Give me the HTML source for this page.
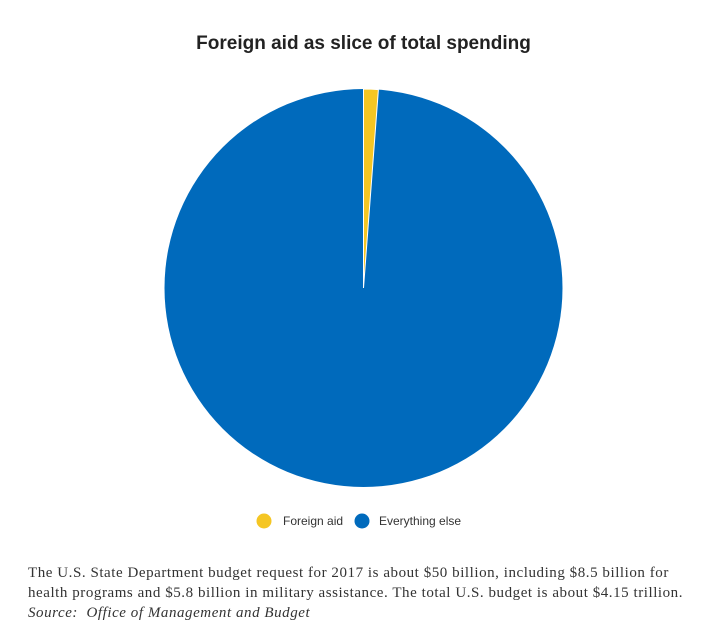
<!DOCTYPE html>
<html><head><style>
body{margin:0;background:#fff;width:711px;height:633px;overflow:hidden;position:relative}
.t{position:absolute;left:0;width:727px;text-align:center;top:33px;font:bold 19px "Liberation Sans",sans-serif;color:#222}
.f{position:absolute;left:28px;top:563px;font:15px/20px "Liberation Serif",serif;color:#333;letter-spacing:0.55px;white-space:nowrap}
</style></head><body>
<div class="t">Foreign aid as slice of total spending</div>
<svg width="711" height="633" style="position:absolute;left:0;top:0">
<circle cx="363.5" cy="288" r="199" fill="#006ABC"/>
<path d="M363.5 288 L363.5 89 A199 199 0 0 1 378.4 89.6 Z" fill="#F5C623" stroke="#fff" stroke-width="1"/>
<circle cx="264" cy="521" r="7.5" fill="#F5C623"/>
<text x="283" y="525" font-family="Liberation Sans,sans-serif" font-size="12" fill="#333">Foreign aid</text>
<circle cx="362" cy="521" r="7.5" fill="#006ABC"/>
<text x="379" y="525" font-family="Liberation Sans,sans-serif" font-size="12" fill="#333">Everything else</text>
</svg>
<div class="f">The U.S. State Department budget request for 2017 is about $50 billion, including $8.5 billion for<br>health programs and $5.8 billion in military assistance. The total U.S. budget is about $4.15 trillion.<br><i>Source:&nbsp; Office of Management and Budget</i></div>
</body></html>
